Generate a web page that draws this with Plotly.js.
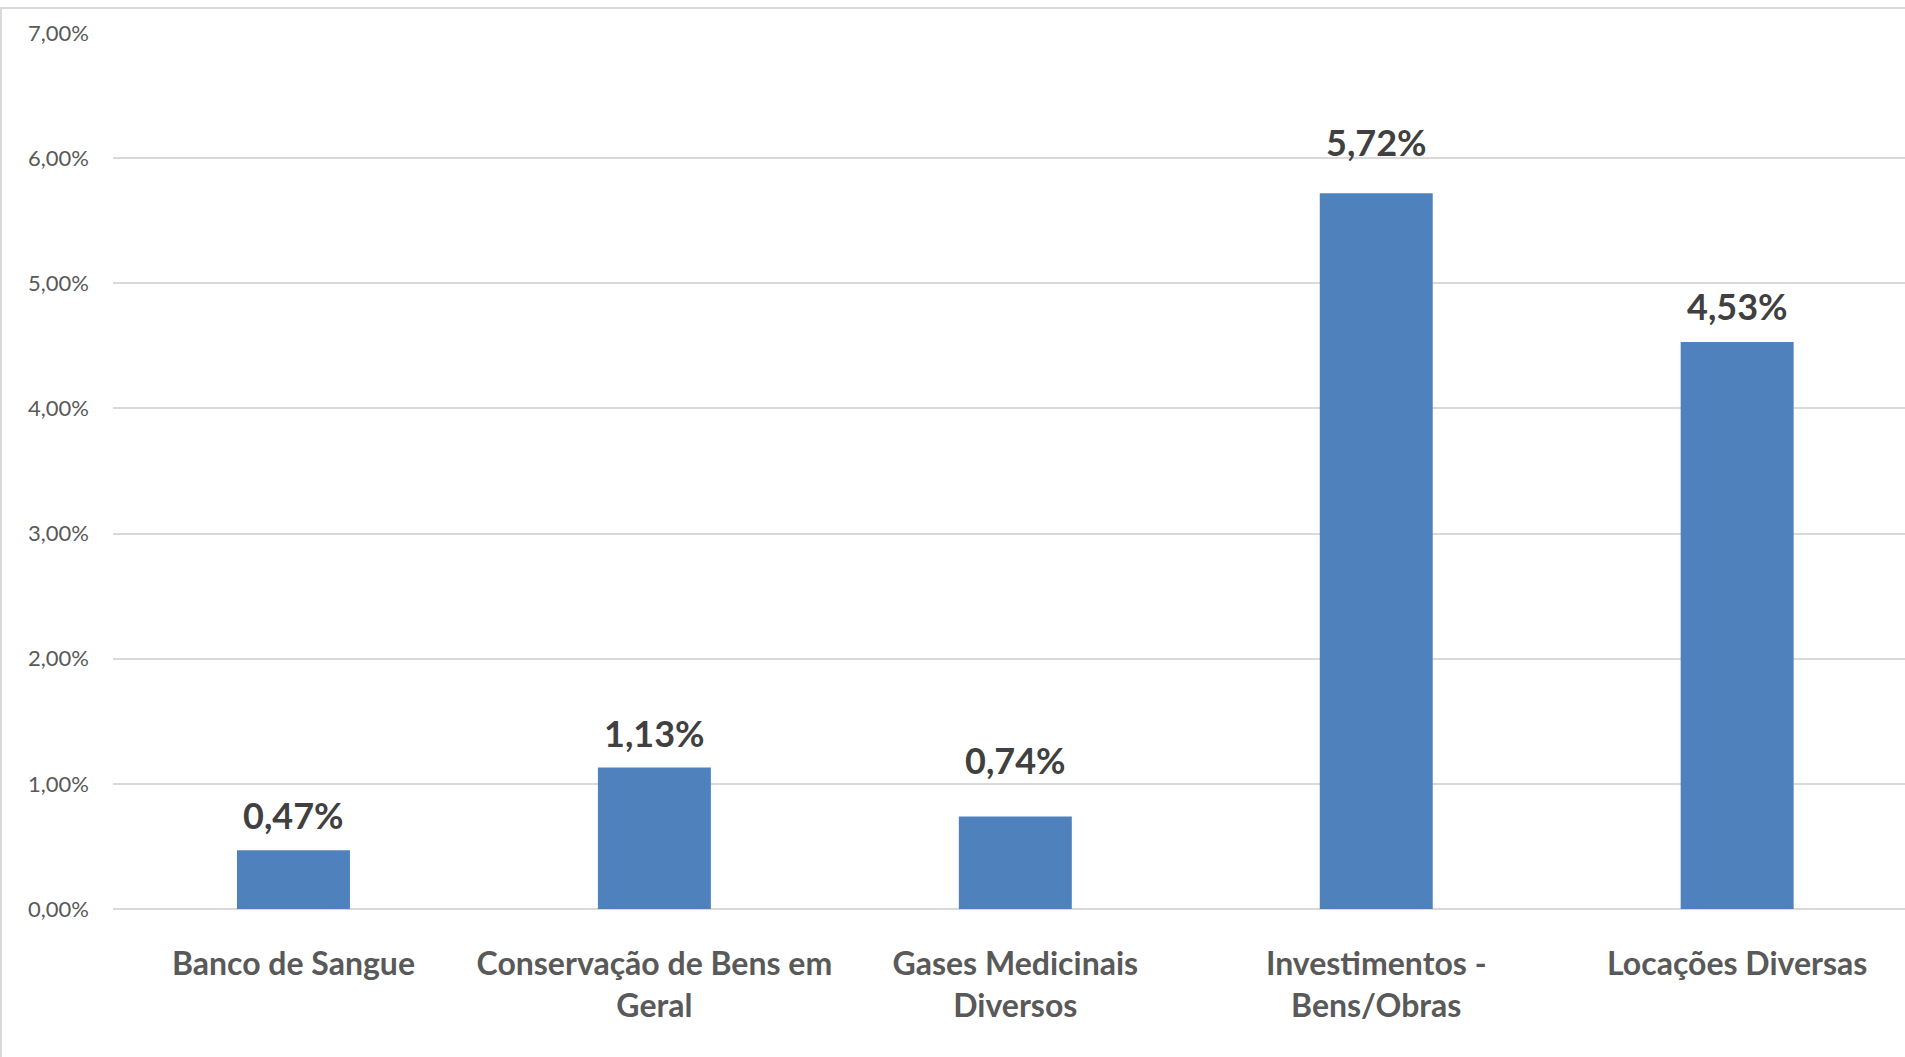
<!DOCTYPE html>
<html>
<head>
<meta charset="utf-8">
<script src="https://cdn.plot.ly/plotly-3.0.1.min.js"></script>
<style>
  html, body { margin: 0; padding: 0; background: #ffffff; overflow: hidden; }
  #frame { position: absolute; left: 0; top: 7px; width: 2000px; height: 1100px;
           border-top: 2px solid #d9d9d9; border-left: 2px solid #d9d9d9; box-sizing: border-box; }
  #chart { position: absolute; left: 0; top: 0; width: 1905px; height: 1057px; }
</style>
</head>
<body>
<div id="frame"></div>
<div id="chart"></div>
<script>
// ---- data ----
const categories = [
  "Banco de Sangue",
  "Conservação de Bens em<br>Geral",
  "Gases Medicinais<br>Diversos",
  "Investimentos -<br>Bens/Obras",
  "Locações Diversas"
];
const values = [0.47, 1.13, 0.74, 5.72, 4.53];   // percent
const yTickVals = [0, 1, 2, 3, 4, 5, 6, 7];
const yTickText = ["0,00%", "1,00%", "2,00%", "3,00%", "4,00%", "5,00%", "6,00%", "7,00%"];

// label offsets above bar tops (pixels), as placed in the original
const labelOffsetPx = [35, 35, 56, 51, 36];

function fmt(v) { return v.toFixed(2).replace('.', ',') + '%'; }

const trace = {
  type: 'bar',
  x: categories,
  y: values,
  marker: { color: '#4f81bd', line: { width: 0 } },
  hoverinfo: 'none'
};

const annotations = categories.map((c, i) => ({
  x: c, y: values[i], xref: 'x', yref: 'y',
  text: fmt(values[i]),
  showarrow: false,
  yanchor: 'middle',
  yshift: labelOffsetPx[i],
  font: { family: 'Lato, sans-serif', size: 36, color: '#404040', weight: 700 }
}));

const layout = {
  width: 1905, height: 1057,
  margin: { l: 113, r: 0, t: 33, b: 148, pad: 0 },
  paper_bgcolor: 'rgba(0,0,0,0)',
  plot_bgcolor: 'rgba(0,0,0,0)',
  showlegend: false,
  bargap: 0.687,
  xaxis: {
    type: 'category',
    range: [-0.5, 4.465],
    showgrid: false, zeroline: false, showline: false,
    ticks: '',
    ticklabelstandoff: 33,
    tickfont: { family: 'Lato, sans-serif', size: 32, color: '#595959', weight: 700 },
    fixedrange: true
  },
  yaxis: {
    range: [0, 7],
    tickvals: yTickVals,
    ticktext: yTickText,
    showgrid: true, gridcolor: '#d9d9d9', gridwidth: 2,
    zeroline: true, zerolinecolor: '#d9d9d9', zerolinewidth: 2,
    showline: false, ticks: '',
    ticklabelstandoff: 23,
    tickfont: { family: 'Lato, sans-serif', size: 22, color: '#595959' },
    fixedrange: true
  },
  annotations: annotations
};

Plotly.newPlot('chart', [trace], layout, { displayModeBar: false, staticPlot: true });
</script>
</body>
</html>
